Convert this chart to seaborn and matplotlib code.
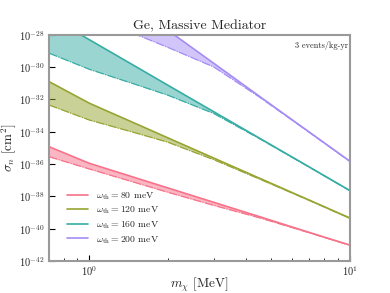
import numpy as np
import pandas as pd
import matplotlib
matplotlib.use("Agg")
import matplotlib.pyplot as plt
import seaborn as sns

# ---- data (log10 of sigma_n in cm^2) ----
m_chi = [0.7, 1.0, 1.5, 2.0, 3.0, 4.5, 7.0, 10.0]
labels = [r"$\omega_{\rm th} = 80$ meV", r"$\omega_{\rm th} = 120$ meV",
          r"$\omega_{\rm th} = 160$ meV", r"$\omega_{\rm th} = 200$ meV"]
upper_80 = [-34.92, -35.95, -36.84, -37.47, -38.36, -39.25, -40.23, -41.01]
lower_80 = [-35.54, -36.30, -37.14, -37.74, -38.55, -39.32, -40.25, -41.02]
upper_120 = [-30.89, -32.23, -33.48, -34.37, -35.62, -36.87, -38.23, -39.33]
lower_120 = [-32.34, -33.27, -34.06, -34.64, -35.72, -36.92, -38.25, -39.35]
upper_160 = [-26.85, -28.30, -29.94, -31.11, -32.75, -34.39, -36.18, -37.63]
lower_160 = [-29.13, -30.13, -31.06, -31.73, -32.86, -34.42, -36.19, -37.64]
upper_200 = [-22.40, -24.22, -26.26, -27.71, -29.75, -31.80, -34.02, -35.81]
lower_200 = [-25.00, -26.80, -27.95, -28.77, -29.98, -31.85, -34.04, -35.83]

uppers = [upper_80, upper_120, upper_160, upper_200]
lowers = [lower_80, lower_120, lower_160, lower_200]

sns.set_style("ticks")
plt.rcParams["font.family"] = ["cmr10", "DejaVu Serif"]
plt.rcParams["mathtext.fontset"] = "cm"
plt.rcParams["axes.formatter.use_mathtext"] = True
plt.rcParams["axes.unicode_minus"] = False

colors = sns.color_palette("husl", 4)

rows = []
for lab, up, lo in zip(labels, uppers, lowers):
    for m, u, l in zip(m_chi, up, lo):
        rows.append({"m": m, "label": lab, "upper": 10.0 ** u, "lower": 10.0 ** l})
df = pd.DataFrame(rows)

fig = plt.figure(figsize=(3.9, 2.93), dpi=100)
ax = fig.add_axes([0.1256, 0.109, 0.771, 0.772])

for lab, c in zip(labels, colors):
    d = df[df["label"] == lab]
    ax.fill_between(d["m"], d["lower"], d["upper"], color=c, alpha=0.5, lw=0)
    sns.lineplot(data=d, x="m", y="upper", color=c, lw=1.2, ax=ax, label=lab)
    sns.lineplot(data=d, x="m", y="lower", color=c, lw=0.9, ax=ax, legend=False,
                 dashes=False, linestyle=(0, (7, 1, 1, 1)))

ax.set_xscale("log")
ax.set_yscale("log")
ax.set_xlim(0.7, 10)
ax.set_ylim(1e-42, 1e-28)
ax.set_yticks([10.0 ** k for k in range(-42, -27, 2)])
ax.yaxis.set_minor_locator(matplotlib.ticker.NullLocator())
ax.tick_params(axis="both", which="both", direction="in", labelsize=7.5, color="k", pad=3)
ax.tick_params(axis="x", which="both", pad=2)
ax.tick_params(which="major", length=4)
ax.tick_params(which="minor", length=2)
for s in ax.spines.values():
    s.set_color("#999999")
    s.set_linewidth(1.5)

ax.set_xlabel(r"$m_\chi$ [MeV]", fontsize=9.5, labelpad=-1)
ax.set_ylabel(r"$\sigma_n$ [cm$^2$]", fontsize=9.5, labelpad=1)
ax.set_title("Ge, Massive Mediator", fontsize=10, pad=4)
ax.text(0.995, 0.975, "3 events/kg-yr", transform=ax.transAxes, ha="right", va="top", fontsize=6)

ax.legend(loc="lower left", bbox_to_anchor=(0.03, 0.03), frameon=False, fontsize=7,
          handlelength=2.2, labelspacing=0.3)

fig.savefig("out.png", dpi=100)
